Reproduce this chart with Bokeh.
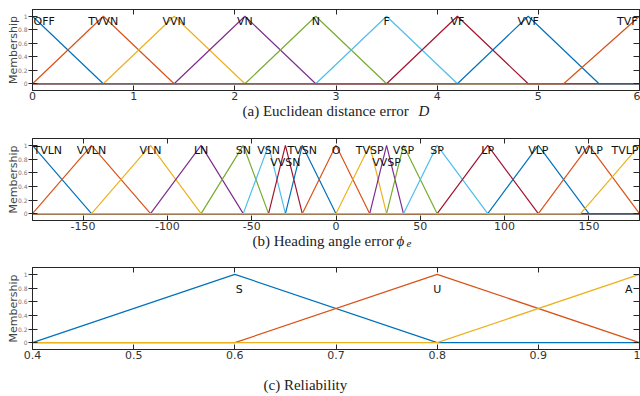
from bokeh.plotting import figure
from bokeh.layouts import column
from bokeh.models import LinearAxis, FixedTicker, Label, ColumnDataSource
from bokeh.core.properties import value
from bokeh.embed import file_html
from bokeh.resources import INLINE

COLORS = ["#0072BD", "#D95319", "#EDB120", "#7E2F8E", "#77AC30", "#4DBEEE", "#A2142F"]

# (a) Euclidean distance error D
dist_names = ["OFF", "TVVN", "VVN", "VN", "N", "F", "VF", "VVF", "TVF"]
dist_params = [[0, 0, 0.7], [0, 0.7, 1.4], [0.7, 1.4, 2.1], [1.4, 2.1, 2.8],
               [2.1, 2.8, 3.5], [2.8, 3.5, 4.2], [3.5, 4.2, 4.9], [4.2, 4.9, 5.6],
               [5.25, 6, 6]]
dist_label_row = [0, 0, 0, 0, 0, 0, 0, 0, 0]
dist_range = [0, 6]
dist_ticks = [0, 1, 2, 3, 4, 5, 6]
dist_tick_labels = ["0", "1", "2", "3", "4", "5", "6"]

# (b) Heading angle error phi_e
head_names = ["TVLN", "VVLN", "VLN", "LN", "SN", "VSN", "VVSN", "TVSN", "O",
              "TVSP", "VVSP", "VSP", "SP", "LP", "VLP", "VVLP", "TVLP"]
head_params = [[-180, -180, -145], [-180, -145, -110], [-145, -110, -80],
               [-110, -80, -55], [-80, -55, -40], [-55, -40, -30],
               [-40, -30, -20], [-30, -20, 0], [-20, 0, 20], [0, 20, 30],
               [20, 30, 40], [30, 40, 60], [40, 60, 90], [60, 90, 120],
               [90, 120, 150], [120, 150, 180], [145, 180, 180]]
head_label_row = [0, 0, 0, 0, 0, 0, 1, 0, 0, 0, 1, 0, 0, 0, 0, 0, 0]
head_range = [-180, 180]
head_ticks = [-150, -100, -50, 0, 50, 100, 150]
head_tick_labels = ["-150", "-100", "-50", "0", "50", "100", "150"]

# (c) Reliability
rel_names = ["S", "U", "A"]
rel_params = [[0.4, 0.6, 0.8], [0.6, 0.8, 1.0], [0.8, 1.0, 1.0]]
rel_label_row = [2, 2, 2]
rel_range = [0.4, 1.0]
rel_ticks = [0.4, 0.5, 0.6, 0.7, 0.8, 0.9, 1.0]
rel_tick_labels = ["0.4", "0.5", "0.6", "0.7", "0.8", "0.9", "1"]

mem_ticks = [0, 0.2, 0.4, 0.6, 0.8, 1]
mem_tick_labels = ["0", "0.2", "0.4", "0.6", "0.8", "1"]

ROW_Y = {0: 0.92, 1: 0.745, 2: 0.775}
AXC = "#262626"
FRAME_L, FRAME_R = 32, 639


def mf_xy(prm, lo, hi):
    a, b, c = prm
    xs, ys = [], []
    if a < b:
        if a > lo:
            xs.append(lo); ys.append(0)
        xs.append(a); ys.append(0)
    xs.append(b); ys.append(1)
    if c > b:
        xs.append(c); ys.append(0)
        if c < hi:
            xs.append(hi); ys.append(0)
    return xs, ys


def panel(names, params, rows, rng, ticks, tick_labels, height, btop, bbot,
          right_off):
    lo, hi = rng
    p = figure(width=640, height=height, x_range=(lo, hi), y_range=(-0.1, 1.1),
               output_backend="svg", toolbar_location=None,
               min_border_left=FRAME_L, min_border_right=640 - FRAME_R,
               min_border_top=btop, min_border_bottom=bbot,
               background_fill_color="white", border_fill_color="white",
               outline_line_color=AXC)
    p.grid.visible = False
    for i, prm in enumerate(params):
        xs, ys = mf_xy(prm, lo, hi)
        p.line(xs, ys, line_color=COLORS[i % 7], line_width=1.2)

    n = len(names)
    groups = {"left": [0], "center": list(range(1, n - 1)), "right": [n - 1]}
    offs = {"left": 1, "center": 0, "right": right_off}
    for align, idx in groups.items():
        src = ColumnDataSource(dict(
            x=[params[i][1] for i in idx],
            y=[ROW_Y[rows[i]] for i in idx],
            t=[names[i] for i in idx]))
        p.text(x="x", y="y", text="t", source=src, text_align=align,
               text_baseline="middle", x_offset=offs[align],
               text_font=value("DejaVu Sans"), text_font_size="11px",
               text_color="#111111")

    xa = p.xaxis[0]
    xa.ticker = FixedTicker(ticks=ticks)
    xa.major_label_overrides = {t: l for t, l in zip(ticks, tick_labels)}
    xa.major_tick_in = 5
    xa.major_tick_out = 0
    xa.minor_tick_line_color = None
    xa.major_label_standoff = 1
    xa.major_label_text_font = "DejaVu Sans"
    xa.major_label_text_font_size = "11px"
    xa.major_label_text_color = "#333333"
    xa.axis_line_color = AXC
    xa.major_tick_line_color = AXC

    ya = p.yaxis[0]
    ya.ticker = FixedTicker(ticks=mem_ticks)
    ya.major_label_overrides = {t: l for t, l in zip(mem_ticks, mem_tick_labels)}
    ya.major_tick_in = 5
    ya.major_tick_out = 4
    ya.minor_tick_line_color = None
    ya.major_label_standoff = 1
    ya.major_label_text_font = "DejaVu Sans"
    ya.major_label_text_font_size = "6px"
    ya.major_label_text_color = "#777777"
    ya.axis_label = "Membership"
    ya.axis_label_text_font = "DejaVu Sans"
    ya.axis_label_text_font_size = "11px"
    ya.axis_label_text_font_style = "normal"
    ya.axis_label_text_color = "#444444"
    ya.axis_label_standoff = -5
    ya.axis_line_color = AXC
    ya.major_tick_line_color = AXC

    top = LinearAxis(ticker=FixedTicker(ticks=ticks), major_tick_in=5,
                     major_tick_out=0, minor_tick_line_color=None,
                     major_label_text_font_size="1px", major_label_text_color=None,
                     major_label_standoff=0,
                     axis_line_color=AXC, major_tick_line_color=AXC)
    right = LinearAxis(ticker=FixedTicker(ticks=mem_ticks), major_tick_in=6,
                       major_tick_out=0, minor_tick_line_color=None,
                       major_label_text_font_size="1px", major_label_text_color=None,
                       major_label_standoff=0,
                       axis_line_color=AXC, major_tick_line_color=AXC)
    p.add_layout(top, "above")
    p.add_layout(right, "right")
    return p


def caption(height, pieces):
    # x of the pieces is page pixels, y is pixels from the strip top
    c = figure(width=640, height=height, x_range=(FRAME_L, FRAME_R),
               y_range=(height, 0),
               output_backend="svg", toolbar_location=None,
               x_axis_type=None, y_axis_type=None,
               min_border_left=FRAME_L, min_border_right=640 - FRAME_R,
               min_border_top=0, min_border_bottom=0,
               outline_line_color=None, background_fill_color="white",
               border_fill_color="white")
    c.grid.visible = False
    for x, y, text, size, style in pieces:
        c.add_layout(Label(x=x, y=y, text=text, text_font="Liberation Serif",
                           text_font_size=size, text_font_style=style,
                           text_color="#222222", text_baseline="alphabetic",
                           text_align="left"))
    return c


pa = panel(dist_names, dist_params, dist_label_row, dist_range, dist_ticks,
           dist_tick_labels, 104, 9, 14, -2)
ca = caption(22, [(242, 6, "(a) Euclidean distance error", "15px", "normal"),
                  (418, 6, "D", "15px", "italic")])

pb = panel(head_names, head_params, head_label_row, head_range, head_ticks,
           head_tick_labels, 108, 12, 14, -1)
cb = caption(20, [(252, 6, "(b) Heading angle error", "15px", "normal"),
                  (396, 6, "\u03d5", "15px", "italic"),
                  (406, 9, "e", "11px", "italic")])

pc = panel(rel_names, rel_params, rel_label_row, rel_range, rel_ticks,
           rel_tick_labels, 109, 13, 14, -7)
cc = caption(33, [(263, 21, "(c) Reliability", "15px", "normal")])

layout = column(pa, ca, pb, cb, pc, cc, spacing=0)
open("out.html", "w").write(file_html(layout, INLINE))
